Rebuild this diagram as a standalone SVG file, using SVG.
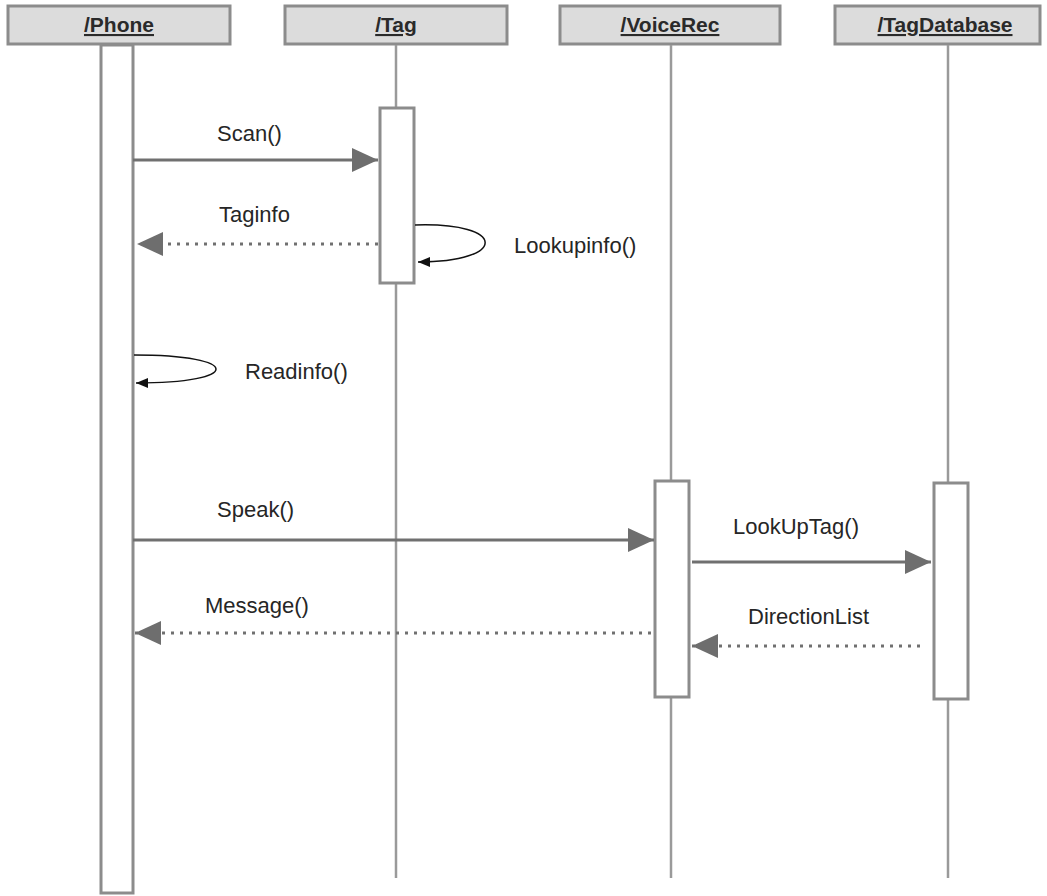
<svg xmlns="http://www.w3.org/2000/svg" width="1047" height="896" viewBox="0 0 1047 896">
  <style>
    .head { fill: #dcdcdc; stroke: #8c8c8c; stroke-width: 3; }
    .title { font-family: "Liberation Sans", Arial, sans-serif; font-size: 21px; font-weight: bold; text-decoration: underline; fill: #2a2a2a; text-anchor: middle; }
    .life { stroke: #9a9a9a; stroke-width: 2.5; fill: none; }
    .act { fill: #ffffff; stroke: #8c8c8c; stroke-width: 3; }
    .msg { stroke: #707070; stroke-width: 3; fill: none; }
    .ret { stroke: #707070; stroke-width: 3; fill: none; stroke-dasharray: 3 6; }
    .head-fill { fill: #6e6e6e; }
    .self { stroke: #111; stroke-width: 1.5; fill: none; }
    .lbl { font-family: "Liberation Sans", Arial, sans-serif; font-size: 22px; fill: #262626; }
  </style>
  <defs>
    <marker id="sync" viewBox="0 0 26 24" refX="26" refY="12" markerWidth="26" markerHeight="24" markerUnits="userSpaceOnUse" orient="auto">
      <path d="M0,0 L26,12 L0,24 Z" class="head-fill"/>
    </marker>
    <marker id="small" viewBox="0 0 12 10" refX="12" refY="5" markerWidth="12" markerHeight="10" markerUnits="userSpaceOnUse" orient="auto">
      <path d="M0,0 L12,5 L0,10 Z" fill="#111"/>
    </marker>
  </defs>

  <!-- lifelines -->
  <g id="node-phone">
    <rect class="head" x="8" y="6" width="222" height="38"/>
    <text class="title" x="119" y="32">/Phone</text>
    <rect class="act" x="101" y="45" width="32" height="848"/>
  </g>
  <g id="node-tag">
    <rect class="head" x="285" y="6" width="222" height="38"/>
    <text class="title" x="396" y="32">/Tag</text>
    <line class="life" x1="396" y1="45" x2="396" y2="878"/>
    <rect class="act" x="380" y="108" width="34" height="175"/>
  </g>
  <g id="node-voicerec">
    <rect class="head" x="560" y="6" width="220" height="38"/>
    <text class="title" x="670" y="32">/VoiceRec</text>
    <line class="life" x1="671" y1="45" x2="671" y2="878"/>
    <rect class="act" x="655" y="481" width="34" height="216"/>
  </g>
  <g id="node-tagdatabase">
    <rect class="head" x="835" y="6" width="205" height="38"/>
    <text class="title" x="945" y="32">/TagDatabase</text>
    <line class="life" x1="948" y1="45" x2="948" y2="878"/>
    <rect class="act" x="934" y="483" width="34" height="216"/>
  </g>

  <!-- messages -->
  <g id="connectors">
    <line class="msg" x1="133" y1="160" x2="378" y2="160" marker-end="url(#sync)"/>
    <text class="lbl" x="217" y="141">Scan()</text>

    <line class="ret" x1="378" y1="244" x2="137" y2="244" marker-end="url(#sync)"/>
    <text class="lbl" x="219" y="222">Taginfo</text>

    <path class="self" d="M415,225 C508,222 508,262 418,262" marker-end="url(#small)"/>
    <text class="lbl" x="514" y="253">Lookupinfo()</text>

    <path class="self" d="M134,355 C243,355 243,383 136,383" marker-end="url(#small)"/>
    <text class="lbl" x="245" y="379">Readinfo()</text>

    <line class="msg" x1="133" y1="540" x2="654" y2="540" marker-end="url(#sync)"/>
    <text class="lbl" x="217" y="517">Speak()</text>

    <line class="msg" x1="692" y1="562" x2="931" y2="562" marker-end="url(#sync)"/>
    <text class="lbl" x="733" y="534">LookUpTag()</text>

    <line class="ret" x1="651" y1="633" x2="135" y2="633" marker-end="url(#sync)"/>
    <text class="lbl" x="205" y="613" fill="#3a3a3a">Message()</text>

    <line class="ret" x1="920" y1="646" x2="692" y2="646" marker-end="url(#sync)"/>
    <text class="lbl" x="748" y="624">DirectionList</text>
  </g>
</svg>
